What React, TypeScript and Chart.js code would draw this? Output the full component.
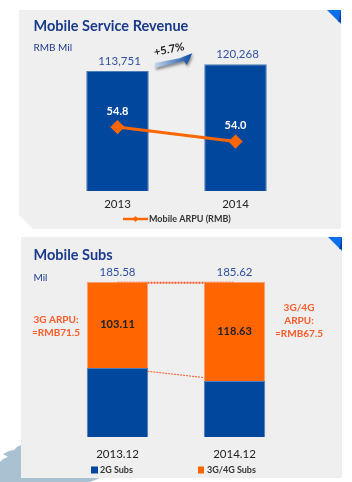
import React, { useEffect, useRef } from "react";
import { Chart, registerables } from "chart.js";

Chart.register(...registerables);

const revenueYears = ["2013", "2014"];
const revenueValues = [113751, 120268];
const revenueLabels = ["113,751", "120,268"];
const arpuValues = [54.8, 54.0];
const subsDates = ["2013.12", "2014.12"];
const subs2G = [82.47, 66.99];
const subs3G4G = [103.11, 118.63];
const subsTotals = ["185.58", "185.62"];

const BLUE = "#00479D";
const EDGE = "#4F7DB8";
const ORANGE = "#FF6600";
const NAVY = "#1B3A8C";
const SOFT = "#FF5A2A";
const FONT = "Lato, 'Open Sans', sans-serif";

function text(ctx: any, s: string, x: number, y: number, font: string, color: string, align: any = "center") {
  ctx.save();
  ctx.font = font + " " + FONT;
  ctx.fillStyle = color;
  ctx.textAlign = align;
  ctx.textBaseline = "middle";
  ctx.fillText(s, x, y);
  ctx.restore();
}

const revenueOverlay = {
  id: "revenueOverlay",
  afterDatasetsDraw(chart: any) {
    const { ctx } = chart;
    text(ctx, "Mobile Service Revenue", 33.5, 26, "bold 14.5px", NAVY, "left");
    text(ctx, "RMB Mil", 33.5, 48, "10px", NAVY, "left");
    const bars = chart.getDatasetMeta(1).data;
    bars.forEach((b: any, i: number) => text(ctx, revenueLabels[i], b.x + 2, b.y - 10, "11.5px", "#2F4FA0"));
    const pts = chart.getDatasetMeta(0).data;
    pts.forEach((p: any, i: number) =>
      text(ctx, arpuValues[i].toFixed(1), p.x, p.y - 16, "bold 11px", "#FFFFFF"));

    // growth arrow between the two bars
    ctx.save();
    ctx.shadowColor = "rgba(0,0,0,0.45)";
    ctx.shadowBlur = 3;
    ctx.shadowOffsetX = 1;
    ctx.shadowOffsetY = 2;
    const g = ctx.createLinearGradient(155, 0, 192, 0);
    g.addColorStop(0, "#C5D5EA");
    g.addColorStop(1, "#0B4AA2");
    ctx.fillStyle = g;
    ctx.beginPath();
    ctx.moveTo(155, 63);
    ctx.lineTo(181, 58);
    ctx.lineTo(180, 58);
    ctx.lineTo(192.3, 53.3);
    ctx.lineTo(186.7, 65);
    ctx.lineTo(184, 61);
    ctx.lineTo(155, 68);
    ctx.closePath();
    ctx.fill();
    ctx.restore();
    ctx.save();
    ctx.translate(169, 49.5);
    ctx.rotate(-0.2);
    text(ctx, "+5.7%", 0, 0, "bold 11px", "#222222");
    ctx.restore();

    // legend
    const ly = 219;
    ctx.save();
    ctx.strokeStyle = ORANGE;
    ctx.lineWidth = 2.5;
    ctx.beginPath();
    ctx.moveTo(123, ly);
    ctx.lineTo(148, ly);
    ctx.stroke();
    ctx.fillStyle = ORANGE;
    ctx.beginPath();
    ctx.moveTo(135.5, ly - 3);
    ctx.lineTo(138.5, ly);
    ctx.lineTo(135.5, ly + 3);
    ctx.lineTo(132.5, ly);
    ctx.closePath();
    ctx.fill();
    ctx.restore();
    text(ctx, "Mobile ARPU (RMB)", 149, ly, "bold 9px", "#333333", "left");
  },
};

const subsOverlay = {
  id: "subsOverlay",
  beforeDatasetsDraw(chart: any) {
    const { ctx } = chart;
    const low = chart.getDatasetMeta(0).data;
    const high = chart.getDatasetMeta(1).data;
    ctx.save();
    ctx.strokeStyle = SOFT;
    ctx.setLineDash([2, 1]);
    ctx.lineWidth = 1;
    ctx.beginPath();
    ctx.moveTo(low[0].x, low[0].y);
    ctx.lineTo(low[1].x, low[1].y);
    ctx.stroke();
    ctx.lineWidth = 2;
    ctx.beginPath();
    ctx.moveTo(high[0].x, high[0].y + 1);
    ctx.lineTo(high[1].x, high[1].y + 1);
    ctx.stroke();
    ctx.restore();
  },
  afterDatasetsDraw(chart: any) {
    const { ctx } = chart;
    text(ctx, "Mobile Subs", 33.5, 20, "bold 14.5px", NAVY, "left");
    text(ctx, "Mil", 33.5, 43, "10px", NAVY, "left");
    const low = chart.getDatasetMeta(0).data;
    const high = chart.getDatasetMeta(1).data;
    high.forEach((b: any, i: number) => {
      text(ctx, subsTotals[i], b.x, b.y - 9, "11.5px", "#2F4FA0");
      text(ctx, subs3G4G[i].toFixed(2), b.x, (b.y + low[i].y) / 2, "bold 11px", "#222222");
    });
    text(ctx, "3G ARPU:", 56, 85, "bold 10px", SOFT);
    text(ctx, "≈RMB71.5", 56, 98, "bold 10px", SOFT);
    text(ctx, "3G/4G", 299, 73, "bold 10px", SOFT);
    text(ctx, "ARPU:", 299, 86, "bold 10px", SOFT);
    text(ctx, "≈RMB67.5", 299, 99, "bold 10px", SOFT);

    const ly = 235;
    ctx.fillStyle = BLUE;
    ctx.fillRect(91, ly - 3.5, 7, 7);
    text(ctx, "2G Subs", 100, ly, "bold 9px", "#333333", "left");
    ctx.fillStyle = ORANGE;
    ctx.fillRect(198, ly - 3.5, 6, 7);
    text(ctx, "3G/4G Subs", 207, ly, "bold 9px", "#333333", "left");
  },
};

function fixedHeight(h: number) {
  return (scale: any) => {
    scale.height = h;
  };
}

export default function App() {
  const topRef = useRef<HTMLCanvasElement>(null);
  const bottomRef = useRef<HTMLCanvasElement>(null);

  useEffect(() => {
    const top = new Chart(topRef.current!, {
      type: "bar",
      data: {
        labels: revenueYears,
        datasets: [
          {
            type: "line",
            label: "Mobile ARPU (RMB)",
            data: arpuValues,
            yAxisID: "y1",
            borderColor: ORANGE,
            backgroundColor: ORANGE,
            borderWidth: 3,
            pointStyle: "rectRot",
            pointRadius: 5,
            pointBackgroundColor: ORANGE,
            pointBorderColor: ORANGE,
            tension: 0,
            order: 0,
          },
          {
            type: "bar",
            label: "Revenue",
            data: revenueValues,
            yAxisID: "y",
            backgroundColor: BLUE,
            borderColor: EDGE,
            borderWidth: 1,
            categoryPercentage: 1,
            barPercentage: 0.53,
            order: 1,
          },
        ],
      } as any,
      options: {
        animation: false,
        responsive: false,
        layout: { padding: { left: 58.5, right: 57.5, top: 40, bottom: 4 } },
        plugins: { legend: { display: false }, title: { display: false }, tooltip: { enabled: false } },
        scales: {
          x: {
            grid: { display: false, drawTicks: false },
            border: { display: false },
            ticks: { color: "#222222", padding: 6, maxRotation: 0, font: { size: 11.5, family: FONT } },
            afterFit: fixedHeight(40),
          },
          y: { display: false, min: 0, max: 143137 },
          y1: { display: false, min: 51.27, max: 59.6 },
        },
      } as any,
      plugins: [revenueOverlay],
    });

    const bottom = new Chart(bottomRef.current!, {
      type: "bar",
      data: {
        labels: subsDates,
        datasets: [
          {
            label: "2G Subs",
            data: subs2G,
            backgroundColor: BLUE,
            borderColor: EDGE,
            borderWidth: 1,
            categoryPercentage: 1,
            barPercentage: 0.525,
          },
          {
            label: "3G/4G Subs",
            data: subs3G4G,
            backgroundColor: ORANGE,
            borderColor: "#FF9E7A",
            borderWidth: 1,
            categoryPercentage: 1,
            barPercentage: 0.525,
          },
        ],
      },
      options: {
        animation: false,
        responsive: false,
        layout: { padding: { left: 59, right: 59, top: 40, bottom: 5 } },
        plugins: { legend: { display: false }, title: { display: false }, tooltip: { enabled: false } },
        scales: {
          x: {
            stacked: true,
            grid: { display: false, drawTicks: false },
            border: { display: false },
            ticks: { color: "#222222", padding: 10, maxRotation: 0, font: { size: 11.5, family: FONT } },
            afterFit: fixedHeight(40),
          },
          y: { display: false, stacked: true, min: 0, max: 193.6 },
        },
      } as any,
      plugins: [subsOverlay],
    });

    return () => {
      top.destroy();
      bottom.destroy();
    };
  }, []);

  const abs = (s: React.CSSProperties): React.CSSProperties => ({ position: "absolute", ...s });
  const corner = "polygon(0 0, 100% 0, 100% 100%)";
  const fold = "polygon(45% 100%, 100% 0, 100% 100%)";

  return (
    <div style={abs({ left: 0, top: 0, width: 352, height: 482, background: "#FFFFFF", overflow: "hidden" })}>
      <div style={abs({ left: 0, top: 445, width: 100, height: 37, background: "#A9C1D0",
        clipPath: "polygon(21px 0, 21px 33px, 100px 33px, 90px 37px, 0 37px, 0 17px, 3px 14px, 8px 12px, 3px 9px, 9px 6px, 14px 5px, 17px 2px)" })} />
      <div style={abs({ left: 19, top: 10, width: 322, height: 219, background: "#EFEFEF",
        clipPath: "polygon(0 0, 100% 0, 100% 100%, 14px 100%, 0 205px)" })} />
      <div style={abs({ left: 327, top: 10, width: 14, height: 14, background: "#0A6FE8", clipPath: corner })} />
      <div style={abs({ left: 336, top: 10, width: 5, height: 12, background: "#0B3F9E", clipPath: fold })} />
      <div style={abs({ left: 21, top: 237, width: 321, height: 241, background: "#EFEFEF" })} />
      <div style={abs({ left: 328, top: 237, width: 14, height: 14, background: "#0A6FE8", clipPath: corner })} />
      <div style={abs({ left: 337, top: 237, width: 5, height: 12, background: "#0B3F9E", clipPath: fold })} />
      <canvas ref={topRef} width={352} height={235} style={abs({ left: 0, top: 0, width: 352, height: 235 })} />
      <canvas ref={bottomRef} width={352} height={247} style={abs({ left: 0, top: 235, width: 352, height: 247 })} />
    </div>
  );
}
